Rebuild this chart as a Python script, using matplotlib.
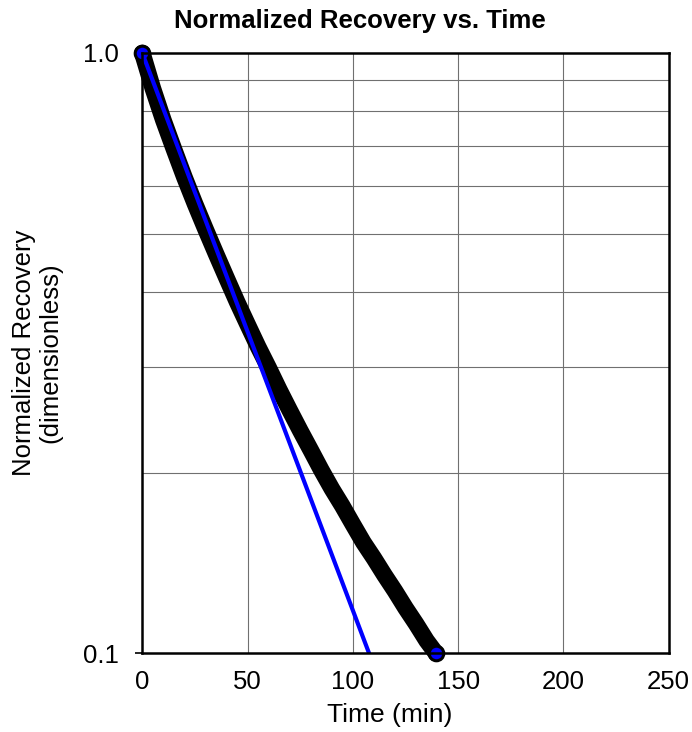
import numpy as np
import matplotlib
matplotlib.use("Agg")
import matplotlib.pyplot as plt
from matplotlib.ticker import FixedLocator, NullFormatter

# --- data ---
time_min = np.array([0, 5, 10, 15, 20, 25, 30, 35, 40, 45, 50, 55, 60, 65, 70,
                     75, 80, 85, 90, 95, 100, 105, 110, 115, 120, 125, 130,
                     135, 139.5])
recovery = np.array([1.000, 0.873, 0.773, 0.692, 0.621, 0.561, 0.509, 0.463,
                     0.422, 0.385, 0.353, 0.324, 0.299, 0.275, 0.254, 0.235,
                     0.218, 0.202, 0.188, 0.176, 0.164, 0.153, 0.144, 0.135,
                     0.127, 0.119, 0.112, 0.105, 0.100])
fit_time = np.array([0.0, 107.7])
fit_recovery = np.array([1.0, 0.1])

x_ticks = [0, 50, 100, 150, 200, 250]
y_ticks = [0.1, 1.0]
y_tick_labels = ["0.1", "1.0"]
y_grid = [0.2, 0.3, 0.4, 0.5, 0.6, 0.7, 0.8, 0.9]

plt.rcParams['font.family'] = ['Liberation Sans', 'DejaVu Sans']

W, H = 692, 732
fig = plt.figure(figsize=(W/100, H/100), dpi=100)
ax = fig.add_axes([142.3/W, 1-653.3/H, (668.7-142.3)/W, (653.3-53)/H])

ax.set_yscale('log')
ax.set_xlim(0, 250)
ax.set_ylim(0.1, 1.0)

# grid
gcol = '#707070'
for gy in y_grid:
    ax.axhline(gy, color=gcol, lw=0.8, zorder=1)
for gx in x_ticks[1:-1]:
    ax.axvline(gx, color=gcol, lw=0.8, zorder=1)

# data (dense markers appear as a thick black band)
ax.plot(time_min, recovery, '-', color='black', lw=12,
        solid_capstyle='round', solid_joinstyle='round', zorder=2, clip_on=False)
ax.plot(time_min[[0, -1]], recovery[[0, -1]], 'o', ms=10.5, mfc='#0000ff',
        mec='black', mew=2.2, zorder=3, clip_on=False)

# fitted line
ax.plot(fit_time, fit_recovery, '-', color='#0000ff', lw=3, zorder=4)

ax.xaxis.set_major_locator(FixedLocator(x_ticks))
ax.yaxis.set_major_locator(FixedLocator(y_ticks))
ax.yaxis.set_minor_locator(FixedLocator(y_grid))
ax.yaxis.set_minor_formatter(NullFormatter())
ax.set_yticklabels(y_tick_labels)
ax.tick_params(axis='x', length=0, pad=12, labelsize=18.5)
ax.tick_params(axis='y', which='major', length=5, width=1.2, pad=12,
               labelsize=18.5, direction='out')
ax.tick_params(axis='y', which='minor', length=0)

for s in ax.spines.values():
    s.set_linewidth(1.8)
    s.set_color('black')
    s.set_zorder(5)

fig.text(360/W, 1-28/H, "Normalized Recovery vs. Time", ha='center', va='baseline',
         fontsize=18.5, fontweight='bold')
fig.text(389.7/W, 1-722/H, "Time (min)", ha='center', va='baseline', fontsize=19)
fig.text(37/W, 1-353/H, "Normalized Recovery\n(dimensionless)", ha='center',
         va='center', rotation=90, multialignment='center', fontsize=18.5,
         linespacing=1.1)

fig.savefig("out.png", dpi=100)
